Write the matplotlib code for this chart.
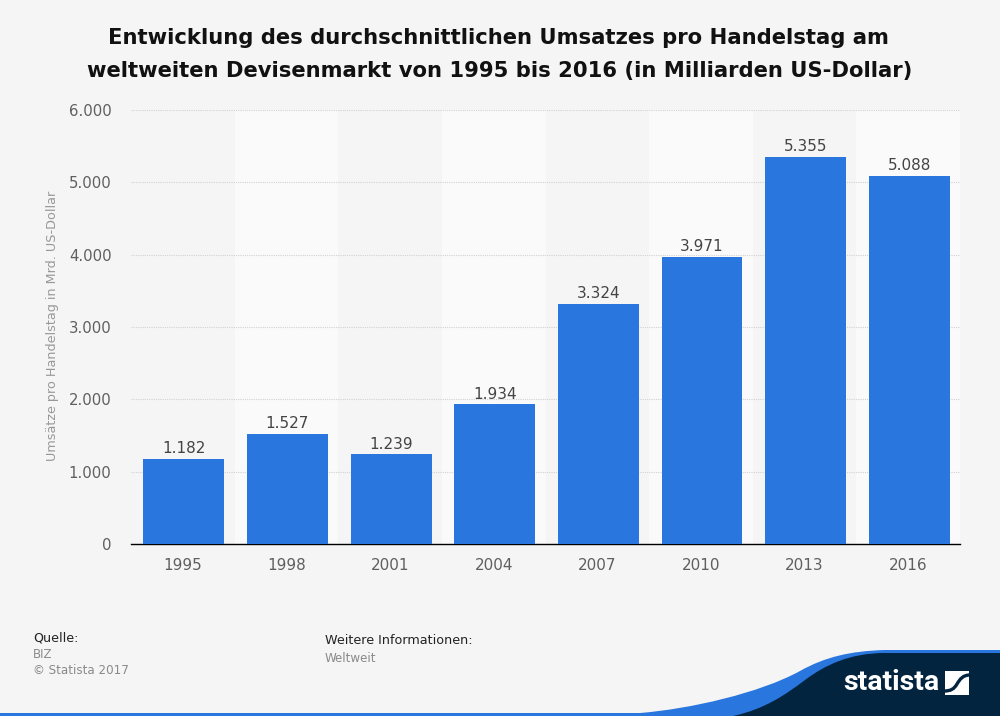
import matplotlib
matplotlib.use('Agg')
import matplotlib.pyplot as plt
from matplotlib.path import Path
from matplotlib.patches import PathPatch, Polygon
import numpy as np

years = ['1995', '1998', '2001', '2004', '2007', '2010', '2013', '2016']
umsatz = [1182, 1527, 1239, 1934, 3324, 3971, 5355, 5088]
y_ticks = [0, 1000, 2000, 3000, 4000, 5000, 6000]
y_labels = ['0', '1.000', '2.000', '3.000', '4.000', '5.000', '6.000']

bg = '#f5f5f5'; blue = '#2976de'; navy = '#03243f'
W = 1000; H = 716

fig = plt.figure(figsize=(10, 7.16), dpi=100, facecolor=bg)
ax = fig.add_axes([131/W, 1-544/H, (960-131)/W, (544-110)/H], facecolor=bg)

## === stripes ===
x = np.arange(len(years))
for ii in x[1::2]:
    ax.axvspan(ii-0.5, ii+0.5, color='#fafafa', lw=0, zorder=0)

ax.bar(x+0.01, umsatz, width=0.78, color=blue, zorder=3)
for ii in x:
    ax.text(ii+0.01, umsatz[ii]+35, f'{umsatz[ii]:,}'.replace(',', '.'), ha='center', va='bottom',
            fontsize=11, color='#444444', zorder=4)

ax.set_xlim(-0.5, len(years)-0.5)
ax.set_ylim(0, 6000)
ax.set_xticks(x, years)
ax.set_yticks(y_ticks, y_labels)
ax.tick_params(axis='both', length=0, labelsize=11, labelcolor='#5f5f5f')
ax.tick_params(axis='x', pad=10)
ax.tick_params(axis='y', pad=14, labelsize=10.7)
ax.grid(axis='y', color='#d2d2d2', linestyle=(0, (1, 1)), linewidth=0.8, zorder=1)
ax.set_axisbelow(True)
for s in ['top', 'left', 'right']:
    ax.spines[s].set_visible(False)
ax.spines['bottom'].set_color('#000000')
ax.spines['bottom'].set_linewidth(1)

## === overlay in pixel coordinates ===
ov = fig.add_axes([0, 0, 1, 1], facecolor='none')
ov.set_xlim(0, W); ov.set_ylim(H, 0); ov.axis('off')

ov.text(498.5, 38, 'Entwicklung des durchschnittlichen Umsatzes pro Handelstag am', ha='center', va='center',
        fontsize=15.25, fontweight='bold', color='#111111')
ov.text(499.5, 71, 'weltweiten Devisenmarkt von 1995 bis 2016 (in Milliarden US-Dollar)', ha='center', va='center',
        fontsize=15.25, fontweight='bold', color='#111111')
ov.text(53, 326, 'Umsätze pro Handelstag in Mrd. US-Dollar', rotation=90, ha='center', va='center',
        fontsize=9.15, color='#989898')

ov.text(33, 638, 'Quelle:', ha='left', va='center', fontsize=9.1, color='#222222')
ov.text(33, 655, 'BIZ', ha='left', va='center', fontsize=8.5, color='#8a8a8a')
ov.text(33, 671, '© Statista 2017', ha='left', va='center', fontsize=8.6, color='#8a8a8a')
ov.text(325, 640, 'Weitere Informationen:', ha='left', va='center', fontsize=9.2, color='#222222')
ov.text(325, 659, 'Weltweit', ha='left', va='center', fontsize=8.6, color='#8a8a8a')

## === footer wave ===
C = Path.CURVE4; L = Path.LINETO; M = Path.MOVETO
blue_v = [(0, 716), (0, 713), (640, 713), (690, 709), (760, 693), (800, 671), (825, 657), (850, 651), (885, 650),
          (1000, 650), (1000, 716)]
blue_c = [M, L, L, C, C, C, C, C, C, L, L]
ov.add_patch(PathPatch(Path(blue_v+[(0, 716)], blue_c+[Path.CLOSEPOLY]), fc=blue, lw=0))
navy_v = [(733, 716), (765, 709), (785, 695), (805, 680), (825, 665), (850, 653), (885, 653),
          (1000, 653), (1000, 716)]
navy_c = [M, C, C, C, C, C, C, L, L]
ov.add_patch(PathPatch(Path(navy_v+[(733, 716)], navy_c+[Path.CLOSEPOLY]), fc=navy, lw=0))

ov.text(843, 683, 'statista', ha='left', va='center', fontsize=20.5, fontweight='bold',
        family='Roboto', color='white')
## logo mark
ov.add_patch(Polygon([(945, 671), (969, 671), (969, 695), (945, 695)], fc='white', lw=0))
s_v = [(944, 691), (951, 691), (954, 689), (957, 684), (960, 679), (963, 675), (970, 675)]
s_c = [M, C, C, C, C, C, C]
ov.add_patch(PathPatch(Path(s_v, s_c), fc='none', ec=navy, lw=2.4))

fig.savefig('out.png', dpi=100, facecolor=bg)
